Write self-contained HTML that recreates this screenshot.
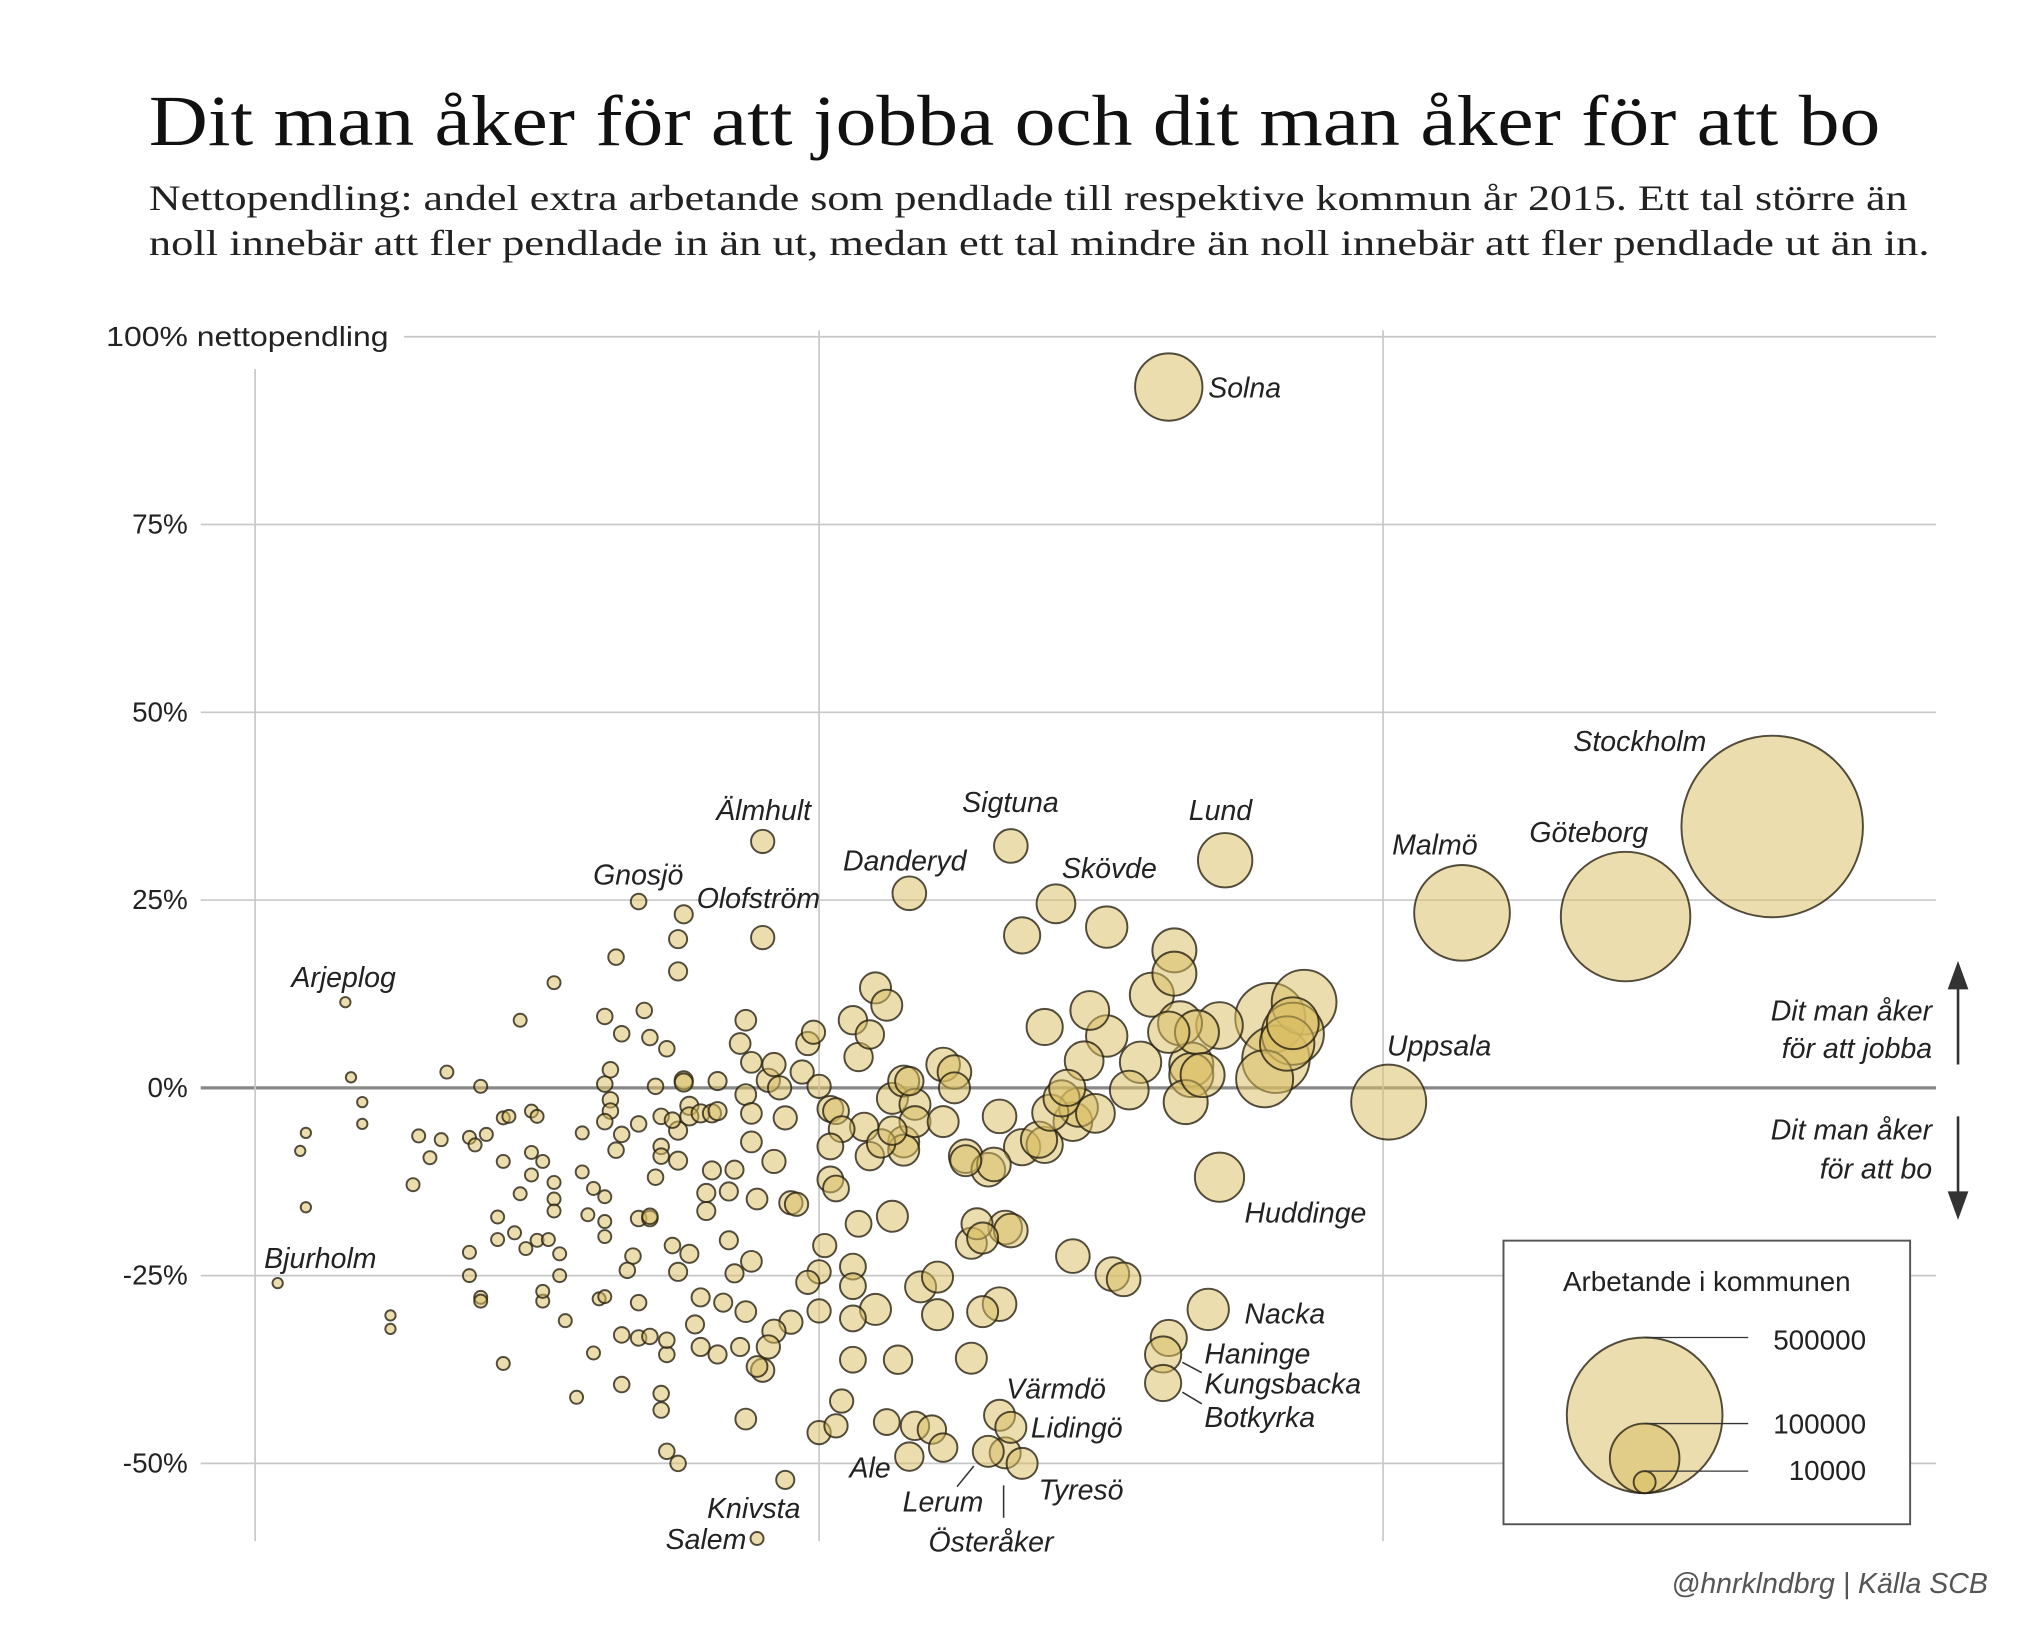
<!DOCTYPE html>
<html><head><meta charset="utf-8"><style>
html,body{margin:0;padding:0;background:#fff;}
svg{display:block;}
.lbl{font-family:"Liberation Sans",sans-serif;font-style:italic;font-size:22px;fill:#222;}
.tick{font-family:"Liberation Sans",sans-serif;font-size:21.5px;fill:#222;}
</style></head><body>
<svg id="chart" width="2029" height="1635" viewBox="0 0 1566.8 1262.5" xmlns="http://www.w3.org/2000/svg">
<text x="115" y="112" font-family="'Liberation Serif',serif" font-size="56" fill="#111" textLength="1337" lengthAdjust="spacingAndGlyphs">Dit man åker för att jobba och dit man åker för att bo</text>
<text x="115" y="162" font-family="'Liberation Serif',serif" font-size="28" fill="#222" textLength="1358" lengthAdjust="spacingAndGlyphs">Nettopendling: andel extra arbetande som pendlade till respektive kommun år 2015. Ett tal större än</text>
<text x="115" y="197" font-family="'Liberation Serif',serif" font-size="28" fill="#222" textLength="1375" lengthAdjust="spacingAndGlyphs">noll innebär att fler pendlade in än ut, medan ett tal mindre än noll innebär att fler pendlade ut än in.</text>
<g id="grid"></g>
<g id="points"></g>
<g id="labels"></g>
<g>
<line x1="1512" y1="822" x2="1512" y2="760" stroke="#333" stroke-width="2"/>
<polygon points="1504,764 1520,764 1512,742" fill="#333"/>
<line x1="1512" y1="862" x2="1512" y2="924" stroke="#333" stroke-width="2"/>
<polygon points="1504,920 1520,920 1512,942" fill="#333"/>
<text class="lbl" text-anchor="end" x="1492" y="788">Dit man åker</text>
<text class="lbl" text-anchor="end" x="1492" y="817">för att jobba</text>
<text class="lbl" text-anchor="end" x="1492" y="880">Dit man åker</text>
<text class="lbl" text-anchor="end" x="1492" y="910">för att bo</text>
</g>
<g id="legend">
<rect x="1161" y="958" width="314" height="219" fill="#fff" stroke="#555" stroke-width="1.5"/>
<text class="tick" x="1318" y="997" text-anchor="middle" fill="#333">Arbetande i kommunen</text>
</g>
<text x="1535" y="1230" text-anchor="end" class="lbl" style="fill:#555">@hnrklndbrg | Källa SCB</text>
</svg>
<script>
const yTicks=[100,75,50,25,0,-25,-50];
const yTickLabels=["100% nettopendling","75%","50%","25%","0%","-25%","-50%"];
const xGrid=[3,4,5];
const xs=[3.16,3.17,3.19,3.19,3.09,3.08,3.09,3.04,3.24,3.24,3.34,3.29,3.28,3.31,3.33,3.40,3.38,3.39,3.41,3.44,3.45,3.44,3.43,3.43,3.38,3.38,3.40,3.40,3.44,3.46,3.47,3.47,3.49,3.49,3.50,3.51,3.49,3.48,3.50,3.51,3.51,3.52,3.53,3.53,3.53,3.54,3.54,3.55,3.57,3.53,3.58,3.58,3.59,3.60,3.60,3.61,3.62,3.62,3.62,3.62,
3.64,3.62,3.65,3.63,3.62,3.63,3.63,3.62,3.64,3.65,3.65,3.65,3.66,3.67,3.68,3.68,3.69,3.68,3.68,3.70,3.70,3.71,3.72,3.72,3.72,3.73,3.73,3.72,3.72,3.73,3.75,3.68,3.70,3.70,3.71,3.73,3.74,3.74,
3.75,3.75,3.76,3.76,3.76,3.77,3.77,3.79,3.75,3.75,3.75,3.77,3.78,3.79,3.79,3.80,3.80,3.81,3.81,3.82,3.82,3.82,3.83,3.84,3.85,3.84,3.85,3.86,
3.87,3.86,3.87,3.88,3.87,3.87,3.88,3.88,3.88,3.89,3.90,3.90,3.89,3.94,3.89,
3.91,3.92,3.92,3.93,3.94,3.95,3.96,3.97,3.98,3.99,4.00,4.01,4.00,4.00,3.98,3.95,3.92,3.91,3.90,4.00,4.03,4.04,
4.02,4.02,4.03,4.03,4.04,4.02,4.07,4.06,4.06,4.06,4.06,4.06,4.07,4.09,4.10,4.12,4.13,4.15,4.16,4.08,4.09,4.11,4.13,4.13,4.15,4.15,4.17,4.17,4.18,4.10,4.12,4.14,4.16,4.17,4.20,4.22,4.21,4.21,4.22,4.22,4.24,4.24,4.26,4.26,4.27,4.27,4.28,4.29,4.29,4.30,4.31,4.33,4.32,4.34,4.32,4.33,4.32,4.34,4.36,4.30,
4.16,4.34,4.36,4.36,4.40,4.39,4.41,4.40,4.43,4.44,4.45,4.46,4.47,4.49,4.42,4.45,4.48,4.51,4.51,4.52,4.54,4.55,4.57,4.59,4.63,4.63,4.62,4.64,4.66,4.66,4.65,4.67,4.71,4.68,4.72,4.62,4.71,4.69,4.62,4.61,4.61,
4.80,4.86,4.84,4.81,4.79,4.83,4.84,5.01,5.14,5.43,5.69];
const ys=[11.4,1.4,-1.9,-4.8,-6.0,-8.4,-15.9,-26.0,-30.3,-32.1,2.1,-6.4,-12.9,-9.3,-6.9,0.2,-6.6,-7.6,-6.2,-4.0,-3.8,-9.8,-17.2,-20.2,-21.9,-25.0,-27.9,-28.4,-36.7,-19.3,-14.1,9.0,-8.6,-3.1,-3.8,-9.8,-11.6,-21.4,-20.3,-28.4,-27.1,-20.2,-12.6,-14.8,-16.4,-22.1,-25.0,-31.0,-41.2,14.0,-6.0,-11.2,-16.9,-13.4,-35.3,-28.1,-27.8,-19.8,-17.8,-14.5,
17.4,9.5,7.2,2.4,0.5,-1.6,-3.1,-4.5,-8.3,-6.2,-32.9,-39.5,-24.3,-22.4,-28.6,-4.8,10.3,-17.4,-33.3,-33.1,6.7,0.2,-3.8,-7.8,-9.1,-35.5,-33.6,-40.7,-42.9,-48.4,-50.0,24.8,-17.4,-17.1,-11.9,5.2,-4.3,-21.0,
19.8,15.5,23.1,1.0,0.7,-2.4,-3.8,-3.4,-5.7,-9.7,-24.5,-22.1,-31.5,-27.9,-34.5,-16.4,-14.0,-11.0,-3.4,0.9,-3.1,-35.5,-28.6,-13.8,-10.9,-20.3,-24.7,-34.5,
9.0,5.9,-0.9,-7.2,-29.8,-44.1,3.4,-3.4,-23.1,-37.1,32.8,20.0,-60.0,-52.2,-14.8,
1.0,3.1,-9.8,0.0,-4.0,-15.3,-15.5,2.1,5.9,7.4,0.2,-21.0,-24.5,-29.7,-25.9,-31.2,-32.4,-34.5,-37.6,-45.9,-45.0,-41.7,
-2.8,-12.2,-13.4,-3.1,-5.5,-7.8,-18.1,-23.8,-26.4,-30.7,-36.2,9.0,4.1,7.1,13.3,11.0,-1.4,0.9,0.9,-5.2,-9.1,-7.4,-5.7,-17.1,-7.2,-8.3,-2.2,-4.5,-26.5,-29.5,-44.5,-36.2,-49.1,-45.0,-45.5,-47.9,-25.2,-30.2,-4.5,3.1,2.1,0,-9.1,-9.7,-36.0,-20.7,-18.1,-20.0,-29.8,-10.9,-10.2,-18.6,-3.8,-19.0,-28.8,-48.6,-43.6,-45.2,-50.0,-48.4,
25.9,32.2,20.3,-7.9,-7.6,-6.9,-3.3,8.1,-1.4,0,-4.5,-2.6,3.6,-3.4,24.5,-22.4,10.3,6.9,21.4,-24.8,-25.5,-0.3,3.4,12.4,18.3,15.2,7.4,8.6,3.1,1.7,-1.9,7.4,8.3,1.7,30.3,93.3,-11.9,-29.5,-33.3,-35.5,-39.3,
9.3,11.4,7.2,3.8,1.2,5.9,8.6,-1.9,23.3,22.8,34.8];
const workers=[2200,2200,2200,2200,2200,2200,2200,2200,2200,2200,3500,3500,3500,3500,3500,3500,3500,3500,3500,3500,3500,3500,3500,3500,3500,3500,3500,3500,3500,3500,3500,3500,3500,3500,3500,3500,3500,3500,3500,3500,3500,3500,3500,3500,3500,3500,3500,3500,3500,3500,3500,3500,3500,3500,3500,3500,3500,3500,3500,3500,
5000,5000,5000,5000,5000,5000,5000,5000,5000,5000,5000,5000,5000,5000,5000,5000,5000,5000,5000,5000,5000,5000,5000,5000,5000,5000,5000,5000,5000,5000,5000,5000,5000,5000,5000,5000,5000,5000,
6800,6800,6800,6800,6800,6800,6800,6800,6800,6800,6800,6800,6800,6800,6800,6800,6800,6800,6800,6800,6800,6800,6800,6800,6800,6800,6800,6800,
8900,8900,8900,8900,8900,8900,8900,8900,8900,8900,11200,11200,3500,6800,8900,
11200,11200,11200,11200,11200,11200,11200,11200,11200,11200,11200,11200,11200,11200,11200,11200,11200,11200,11200,11200,11200,11200,
13800,13800,13800,13800,13800,13800,13800,13800,13800,13800,13800,16700,16700,16700,19900,19900,19900,19900,16700,16700,16700,16700,16700,19900,19900,19900,19900,19900,19900,19900,13800,16700,16700,16700,16700,16700,19900,19900,19900,23400,23400,19900,23400,19900,19900,19900,19900,19900,19900,23400,23400,23400,23400,23400,23400,19900,19900,19900,19900,19900,
23400,23400,27100,27100,27100,27100,27100,27100,27100,27100,31100,31100,31100,31100,31100,23400,31100,35400,35400,23400,23400,31100,35400,40000,40000,40000,35400,40000,40000,40000,40000,40000,44800,40000,61000,93600,50000,35400,27100,27100,27100,
101000,86500,79700,93600,67000,61000,55400,116000,189000,346000,680000];
const names=["Solna","Stockholm","Göteborg","Malmö","Lund","Skövde","Sigtuna","Danderyd","Älmhult","Gnosjö","Olofström","Arjeplog","Bjurholm","Uppsala","Huddinge","Nacka","Haninge","Kungsbacka","Botkyrka","Värmdö","Lidingö","Tyresö","Ale","Lerum","Österåker","Knivsta","Salem"];
const labelX=[933,1215,1181,1075,918,820,743,651,553,458,538,225,204,1071,961,961,930,930,930,777,796,802,656,697,717,546,514];
const labelY=[307,580,650,660,633,678,627,672,633,683,701,762,979,815,944,1022,1053,1076,1102,1080,1110,1158,1141,1167,1198,1172,1196];
const NS="http://www.w3.org/2000/svg";
const X0=197,XU=435.5,Y0=840,YU=5.8,RK=0.085;
const xScale=v=>X0+(v-3)*XU;
const yScale=v=>Y0-v*YU;
const rScale=w=>RK*Math.sqrt(w);
function mk(tag,attrs,parent){const e=document.createElementNS(NS,tag);for(const k in attrs)e.setAttribute(k,attrs[k]);parent.appendChild(e);return e;}
const grid=document.getElementById('grid');
yTicks.forEach((t,i)=>{
  const y=yScale(t);
  const x1=i===0?312:155;
  const l=mk('line',{x1:x1,x2:1495,y1:y,y2:y,stroke:t===0?'#888':'#c8c8c8','stroke-width':t===0?2.5:1.3},grid);
  
  
  const attrs={x:i===0?300:145,y:y+7,'text-anchor':'end',class:'tick'};
  if(i===0){attrs.textLength=218;attrs.lengthAdjust='spacingAndGlyphs';}
  const tx=mk('text',attrs,grid);
  tx.textContent=yTickLabels[i];
  
  
});
xGrid.forEach((g,i)=>{
  const x=xScale(g);
  const l=mk('line',{x1:x,x2:x,y1:i===0?285:255,y2:1190,stroke:'#c8c8c8','stroke-width':1.3},grid);
  
  
});
const pts=document.getElementById('points');
const idx=xs.map((_,i)=>i).sort((a,b)=>workers[b]-workers[a]);
idx.forEach(i=>{
  const c=mk('circle',{cx:xScale(xs[i]),cy:yScale(ys[i]),r:rScale(workers[i]),fill:'rgba(216,190,100,0.52)',stroke:'rgba(40,34,18,0.8)','stroke-width':1.5},pts);
  
  
});
const lb=document.getElementById('labels');
names.forEach((n,i)=>{
  const t=mk('text',{x:labelX[i],y:labelY[i],class:'lbl'},lb);
  t.textContent=n;
  
  
});
[[739,1148,752,1132],[775,1147,775,1172],[913,1052,928,1060],[913,1075,928,1084]].forEach(s=>{
  const l=mk('line',{x1:s[0],y1:s[1],x2:s[2],y2:s[3],stroke:'#333','stroke-width':1.2},lb);
  
  
});
const legendValues=[500000,100000,10000];
const legendLabelY=[1042,1107,1143];
const lg=document.getElementById('legend');
const lcx=1270,lbot=1153;
legendValues.forEach((v,i)=>{
  const r=rScale(v);
  const c=mk('circle',{cx:lcx,cy:lbot-r,r:r,fill:'rgba(216,190,100,0.52)',stroke:'rgba(40,34,18,0.8)','stroke-width':1.5},lg);
  
  
  const l=mk('line',{x1:lcx,y1:lbot-2*r,x2:1350,y2:lbot-2*r,stroke:'#333','stroke-width':1},lg);
  
  
  const t=mk('text',{x:1441,y:legendLabelY[i],'text-anchor':'end',class:'tick'},lg);
  t.textContent=String(v);
  
  
});
</script>
</body></html>
